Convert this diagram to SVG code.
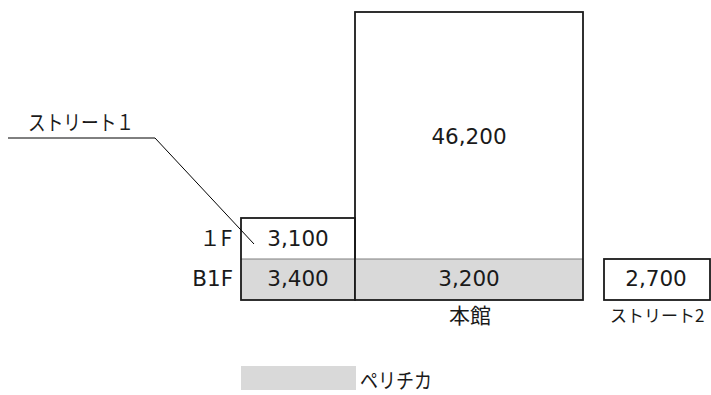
<svg xmlns="http://www.w3.org/2000/svg" width="711" height="395" viewBox="0 0 711 395">
<style>
.num{font-family:"DejaVu Sans","Noto Sans CJK JP",sans-serif;font-size:21.5px;fill:#1a1a1a}
.jp{font-family:"Noto Sans CJK JP","DejaVu Sans",sans-serif;font-size:21px;fill:#1a1a1a}
.box{stroke:#1a1a1a;stroke-width:1.8;fill:none}
.peri{fill:#d9d9d9}
.div{stroke:#7f7f7f;stroke-width:1}
</style>
<rect width="711" height="395" fill="#fff"/>
<g id="street1-1f">
<rect class="peri" x="241" y="259" width="114" height="41"/>
<line class="div" x1="241" y1="259" x2="355" y2="259"/>
<rect class="box" x="241" y="218" width="114" height="82"/>
<text class="num" x="298" y="246" text-anchor="middle">3,100</text>
<text class="num" x="298" y="286" text-anchor="middle">3,400</text>
</g>
<g id="honkan">
<rect class="peri" x="355" y="259" width="228" height="41"/>
<line class="div" x1="355" y1="259" x2="583" y2="259"/>
<rect class="box" x="355" y="12" width="228" height="288"/>
<text class="num" x="469" y="144" text-anchor="middle">46,200</text>
<text class="num" x="469" y="286" text-anchor="middle">3,200</text>
<text class="jp" x="470" y="323" text-anchor="middle">本館</text>
</g>
<g id="street2">
<rect class="box" x="604" y="259" width="106" height="41"/>
<text class="num" x="656" y="286" text-anchor="middle">2,700</text>
<text class="jp" x="610" y="322" style="font-size:17px">ストリート2</text>
</g>
<g id="floor-labels">
<text class="jp" x="232" y="246" text-anchor="end">１F</text>
<text class="num" x="233" y="286" text-anchor="end">B1F</text>
</g>
<g id="legend">
<rect class="peri" x="241" y="366" width="115" height="24"/>
<text class="jp" x="360" y="388" textLength="72" lengthAdjust="spacingAndGlyphs">ペリチカ</text>
</g>
<g id="connectors">
<polyline points="8,138 155,138 254,244" fill="none" stroke="#000" stroke-width="1"/>
</g>
<g id="street1-label">
<text class="jp" x="28" y="130" textLength="106" lengthAdjust="spacingAndGlyphs">ストリート１</text>
</g>
</svg>
